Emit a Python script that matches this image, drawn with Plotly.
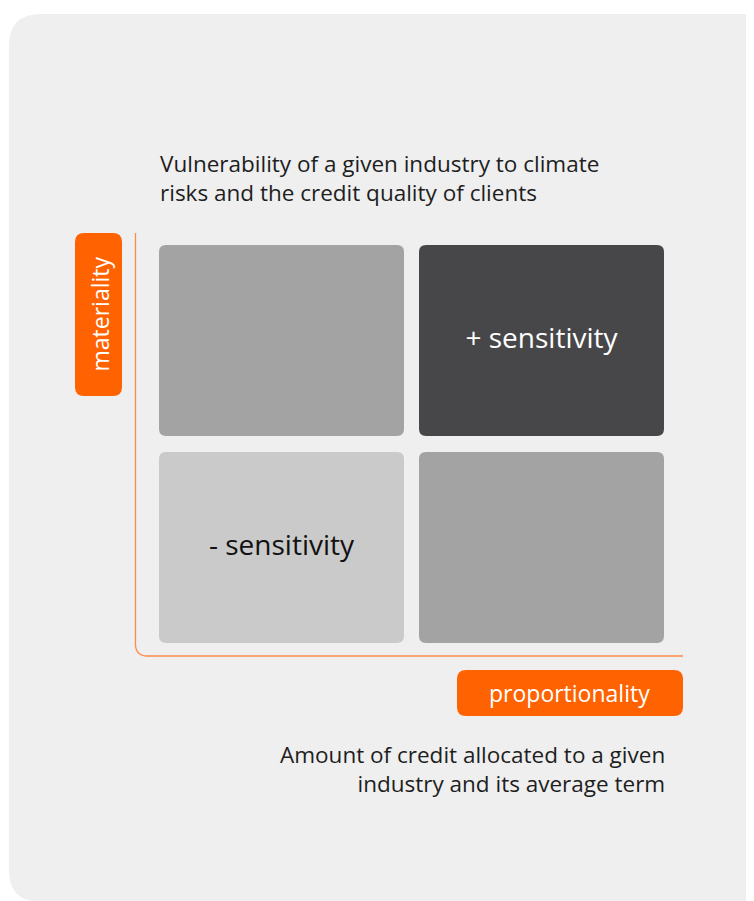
import plotly.graph_objects as go

# ---- data ----
proportionality_levels = ["low", "high"]      # x categories
materiality_levels = ["low", "high"]          # y categories
sensitivity_grid = [[0, 1],                    # row: materiality low
                    [1, 2]]                    # row: materiality high
sensitivity_labels = {0: "- sensitivity", 1: "", 2: "+ sensitivity"}
x_axis_title = "proportionality"
y_axis_title = "materiality"
y_description = ["Vulnerability of a given industry to climate",
                 "risks and the credit quality of clients"]
x_description = ["Amount of credit allocated to a given",
                 "industry and its average term"]

# ---- styles ----
OFF = 8                      # page body margin of the html page
W, H = 754 - OFF, 901 - OFF
FONT = "Open Sans"
ORANGE = "#ff6200"
AXIS_ORANGE = "#ff8a45"
PANEL = "#efefef"
TXT = "#1e1e1e"
cell_fill = {0: "#cacaca", 1: "#a3a3a3", 2: "#474749"}
cell_text = {0: "#111111", 1: "#111111", 2: "#ffffff"}


def px(x):
    return (x - OFF) / W


def py(y):
    return 1 - (y - OFF) / H


def rounded_path(x0, y0, x1, y1, rx, ry, corners=(True, True, True, True)):
    tl, tr, br, bl = corners
    p = [f"M {x0 + (rx if tl else 0)},{y0}"]
    p.append(f"L {x1 - rx},{y0} Q {x1},{y0} {x1},{y0 - ry}" if tr else f"L {x1},{y0}")
    p.append(f"L {x1},{y1 + ry} Q {x1},{y1} {x1 - rx},{y1}" if br else f"L {x1},{y1}")
    p.append(f"L {x0 + rx},{y1} Q {x0},{y1} {x0},{y1 + ry}" if bl else f"L {x0},{y1}")
    p.append(f"L {x0},{y0 - ry} Q {x0},{y0} {x0 + rx},{y0}" if tl else f"L {x0},{y0}")
    p.append("Z")
    return " ".join(p)


def paper_box(l, t, r, b, rad, corners=(True, True, True, True)):
    return rounded_path(px(l), py(t), px(r), py(b), rad / W, rad / H, corners)


fig = go.Figure()
shapes = []
annotations = []

# background panel
shapes.append(dict(type="path", xref="paper", yref="paper", layer="below",
                   path=paper_box(9, 14, 800, 902, 32, (True, False, False, True)),
                   fillcolor=PANEL, line=dict(width=0)))

# plot area domain (page pixels)
x_dom = (151.5, 671.5)
y_dom = (237, 651)
nx, ny = len(proportionality_levels), len(materiality_levels)
ux = (x_dom[1] - x_dom[0]) / nx
uy = (y_dom[1] - y_dom[0]) / ny
hw = 122.5 / ux
hh = 95.5 / uy
rx = 7 / ux
ry = 7 / uy

# cells (data coordinates)
for j, mat in enumerate(materiality_levels):
    for i, prop in enumerate(proportionality_levels):
        lvl = sensitivity_grid[j][i]
        shapes.append(dict(type="path", xref="x", yref="y", layer="below",
                           path=rounded_path(i - hw, j + hh, i + hw, j - hh, rx, ry),
                           fillcolor=cell_fill[lvl], line=dict(width=0)))

# cell labels
xs, ys, ts, cs = [], [], [], []
for j in range(ny):
    for i in range(nx):
        lvl = sensitivity_grid[j][i]
        if sensitivity_labels[lvl]:
            xs.append(i); ys.append(j); ts.append(sensitivity_labels[lvl]); cs.append(cell_text[lvl])
fig.add_trace(go.Scatter(x=xs, y=ys, mode="text", text=ts,
                         textfont=dict(family=FONT, size=28, color=cs),
                         hoverinfo="skip", showlegend=False))

# axis line (L shape with rounded corner)
ax_x, ax_top, ax_y, ax_right, r = 135.5, 233, 656, 683, 12
shapes.append(dict(type="path", xref="paper", yref="paper",
                   path=(f"M {px(ax_x)},{py(ax_top)} L {px(ax_x)},{py(ax_y - r)} "
                         f"Q {px(ax_x)},{py(ax_y)} {px(ax_x + r)},{py(ax_y)} "
                         f"L {px(ax_right)},{py(ax_y)}"),
                   line=dict(color=AXIS_ORANGE, width=1.3)))

# axis title boxes
shapes.append(dict(type="path", xref="paper", yref="paper",
                   path=paper_box(75, 233, 122, 396, 9),
                   fillcolor=ORANGE, line=dict(width=0)))
shapes.append(dict(type="path", xref="paper", yref="paper",
                   path=paper_box(457, 670, 683, 716, 9),
                   fillcolor=ORANGE, line=dict(width=0)))

annotations.append(dict(xref="paper", yref="paper", x=px(99), y=py(314.5),
                        text=y_axis_title, textangle=-90, showarrow=False,
                        xanchor="center", yanchor="middle",
                        font=dict(family=FONT, size=23, color="white")))
annotations.append(dict(xref="paper", yref="paper", x=px(569), y=py(693),
                        text=x_axis_title, showarrow=False,
                        xanchor="center", yanchor="middle",
                        font=dict(family=FONT, size=23, color="white")))

# descriptions (one wrapped text block each)
annotations.append(dict(xref="paper", yref="paper", x=px(159), y=py(178),
                        text="<br>".join(y_description), showarrow=False,
                        xanchor="left", yanchor="middle", align="left", borderpad=0,
                        font=dict(family=FONT, size=22.5, color=TXT)))
annotations.append(dict(xref="paper", yref="paper", x=px(666), y=py(769),
                        text="<br>".join(x_description), showarrow=False,
                        xanchor="right", yanchor="middle", align="right", borderpad=0,
                        font=dict(family=FONT, size=22.5, color=TXT)))

fig.update_layout(
    width=W, height=H,
    margin=dict(l=0, r=0, t=0, b=0),
    paper_bgcolor="white", plot_bgcolor="rgba(0,0,0,0)",
    shapes=shapes, annotations=annotations,
    xaxis=dict(domain=[px(x_dom[0]), px(x_dom[1])], range=[-0.5, nx - 0.5],
               visible=False, fixedrange=True),
    yaxis=dict(domain=[py(y_dom[1]), py(y_dom[0])], range=[-0.5, ny - 0.5],
               visible=False, fixedrange=True),
    showlegend=False,
)

fig.write_html("out.html")
